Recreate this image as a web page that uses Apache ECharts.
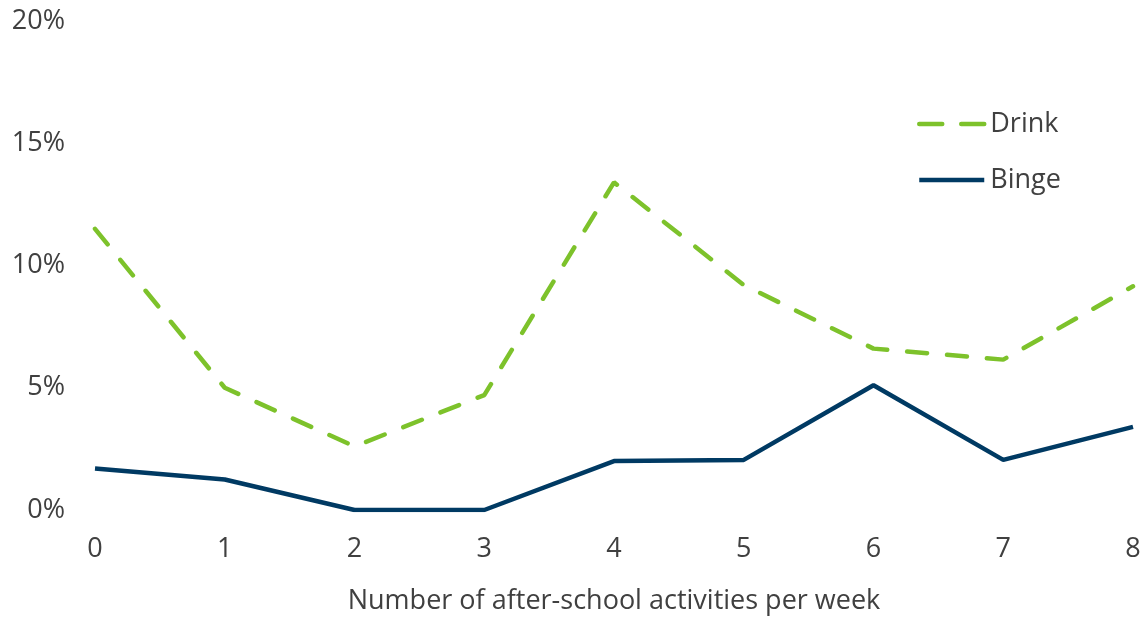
<!DOCTYPE html>
<html>
<head>
<meta charset="utf-8">
<script src="https://cdn.jsdelivr.net/npm/echarts@6/dist/echarts.min.js"></script>
<style>
  html, body { margin: 0; padding: 0; background: #fff; }
  #chart { width: 1145px; height: 620px; }
</style>
</head>
<body>
<div id="chart"></div>
<script>
// data
var activities = ['0', '1', '2', '3', '4', '5', '6', '7', '8'];
var drink = [11.5, 5.0, 2.6, 4.7, 13.4, 9.2, 6.6, 6.15, 9.15];
var binge = [1.7, 1.25, 0, 0, 2.0, 2.05, 5.1, 2.05, 3.4];
var yTicks = [0, 5, 10, 15, 20];

var textColor = '#404040';
var font = 'Open Sans';
var green = '#7DC22B';
var navy = '#003A63';

var chart = echarts.init(document.getElementById('chart'));
chart.setOption({
  animation: false,
  grid: { left: 95, right: 12, top: 21, bottom: 105, containLabel: false },
  legend: {
    orient: 'vertical',
    left: 912,
    top: 104,
    itemWidth: 65,
    itemHeight: 30,
    itemGap: 26,
    itemStyle: { opacity: 0 },
    textStyle: { fontFamily: font, fontSize: 27, lineHeight: 30, color: textColor, padding: [0, 0, 0, 1] },
    data: [
      { name: 'Drink', lineStyle: { width: 4.5, type: [23, 19], cap: 'round', color: green } },
      { name: 'Binge', lineStyle: { width: 4.5, color: navy } }
    ]
  },
  xAxis: {
    type: 'category',
    data: activities,
    boundaryGap: false,
    axisLine: { show: false },
    axisTick: { show: false },
    axisLabel: { fontFamily: font, fontSize: 27, color: textColor, margin: 26 },
    name: 'Number of after-school activities per week',
    nameLocation: 'middle',
    nameGap: 78,
    nameTextStyle: { fontFamily: font, fontSize: 27, color: textColor }
  },
  yAxis: {
    type: 'value',
    min: yTicks[0],
    max: yTicks[yTicks.length - 1],
    interval: 5,
    splitLine: { show: false },
    axisLine: { show: false },
    axisTick: { show: false },
    axisLabel: {
      fontFamily: font, fontSize: 27, color: textColor, margin: 30,
      formatter: function (v) { return v + '%'; }
    }
  },
  series: [
    {
      name: 'Drink',
      type: 'line',
      data: drink,
      symbol: 'none',
      color: green,
      lineStyle: { width: 4.5, type: [20, 20], cap: 'round', color: green }
    },
    {
      name: 'Binge',
      type: 'line',
      data: binge,
      symbol: 'none',
      color: navy,
      lineStyle: { width: 4.5, color: navy }
    }
  ]
});
</script>
</body>
</html>
